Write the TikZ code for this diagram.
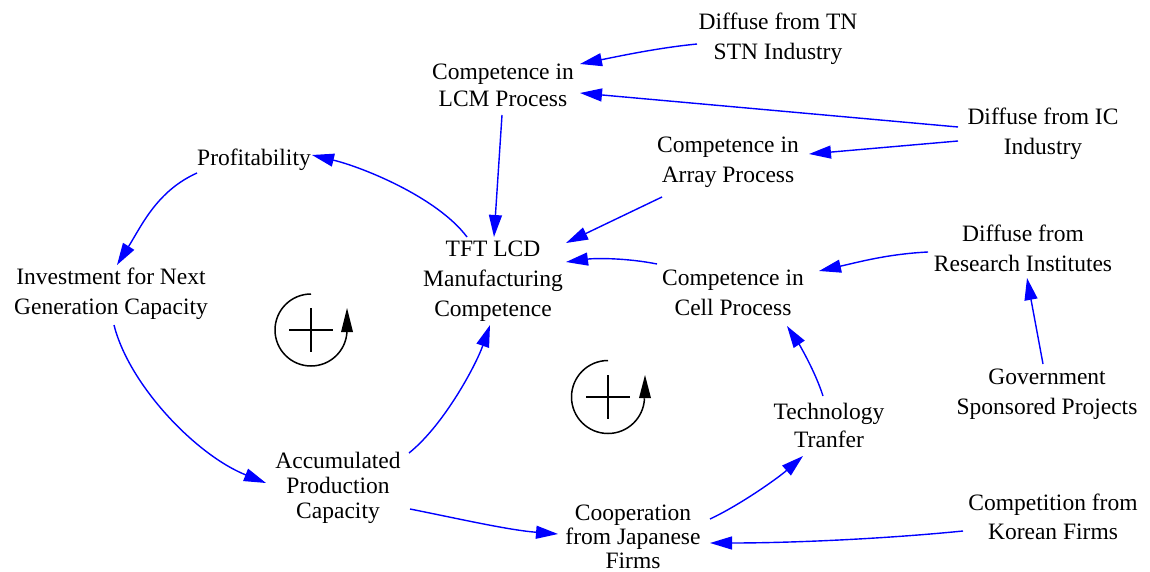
\documentclass[tikz,border=0pt]{standalone}
\usepackage{fontspec}
\setmainfont{Liberation Serif}
\usetikzlibrary{arrows.meta}
\begin{document}
\begin{tikzpicture}[x=1pt,y=-1pt,
  var/.style={align=center, inner sep=0pt, font=\fontsize{23.5}{30}\selectfont},
  tight/.style={font=\fontsize{23.5}{25}\selectfont},
  link/.style={draw=blue, line width=1.4pt, -{Triangle[length=22pt,width=13pt]}},
  loopline/.style={line width=1.5pt},
  plusline/.style={line width=2.5pt}]
\useasboundingbox (0,0) rectangle (1150,572);

% variables
\node[var] (tn)   at (778,39)  {Diffuse from TN\\STN Industry};
\node[var, font=\fontsize{23.5}{27}\selectfont] (lcm) at (503,85) {Competence in\\LCM Process};
\node[var] (ic)   at (1043,134) {Diffuse from IC\\Industry};
\node[var] (prof) at (254,160) {Profitability};
\node[var] (arr)  at (728,162) {Competence in\\Array Process};
\node[var] (tft)  at (493,281) {TFT LCD\\Manufacturing\\Competence};
\node[var] (res)  at (1023,248) {Diffuse from\\Research Institutes};
\node[var] (inv)  at (111,294) {Investment for Next\\Generation Capacity};
\node[var] (cell) at (733,293) {Competence in\\Cell Process};
\node[var] (gov)  at (1047,394) {Government\\Sponsored Projects};
\node[var, font=\fontsize{23.5}{28}\selectfont] (tech) at (829,425) {Technology\\Tranfer};
\node[var, tight] (acc)  at (338,488) {Accumulated\\Production\\Capacity};
\node[var, font=\fontsize{23.5}{24}\selectfont] (coop) at (633,537) {Cooperation\\from Japanese\\Firms};
\node[var, font=\fontsize{23.5}{29}\selectfont] (comp) at (1053,517) {Competition from\\Korean Firms};

% causal links
\draw[link] ([shift={(-81,5)}]tn.center) .. controls +(-40,4) and +(40,-8) .. ([shift={(77,-21)}]lcm.center);
\draw[link] ([shift={(-85,-7)}]ic.center) -- ([shift={(77,8)}]lcm.center);
\draw[link] ([shift={(-85,7)}]ic.center) -- ([shift={(81,-8)}]arr.center);
\draw[link] ([shift={(-1,30)}]lcm.center) -- ([shift={(1,-44)}]tft.center);
\draw[link] ([shift={(-66,35)}]arr.center) -- ([shift={(73,-38)}]tft.center);
\draw[link] ([shift={(-76,-29)}]cell.center) .. controls +(-30,-6) and +(30,-4) .. ([shift={(73,-19)}]tft.center);
\draw[link] ([shift={(-95,4)}]res.center) .. controls +(-40,2) and +(40,-9) .. ([shift={(86,-22)}]cell.center);
\draw[link] ([shift={(-4,-30)}]gov.center) -- ([shift={(4,30)}]res.center);
\draw[link] ([shift={(-6,-29)}]tech.center) .. controls +(-8,-25) and +(12,18) .. ([shift={(54,33)}]cell.center);
\draw[link] ([shift={(77,-18)}]coop.center) .. controls +(30,-14) and +(-25,22) .. ([shift={(-26,31)}]tech.center);
\draw[link] ([shift={(-90,14)}]comp.center) .. controls +(-80,8) and +(80,0) .. ([shift={(77,6)}]coop.center);
\draw[link] ([shift={(72,21)}]acc.center) .. controls +(50,10) and +(-50,-4) .. ([shift={(-75,-3)}]coop.center);
\draw[link] ([shift={(71,-35)}]acc.center) .. controls +(35,-28) and +(-14,40) .. ([shift={(-3,44)}]tft.center);
\draw[link] ([shift={(-26,-44)}]tft.center) .. controls +(-30,-40) and +(50,12) .. ([shift={(58,-5)}]prof.center);
\draw[link] ([shift={(-57,13)}]prof.center) .. controls +(-40,18) and +(25,-40) .. ([shift={(6,-29)}]inv.center);
\draw[link] ([shift={(3,31)}]inv.center) .. controls +(15,60) and +(-70,-28) .. ([shift={(-72,-5)}]acc.center);

% reinforcing loop markers
\begin{scope}[shift={(311,330)}]
  \draw[loopline] (0,-36) arc[start angle=-90, end angle=-358, radius=36];
  \fill (30,2) -- (42,2) -- (36,-22) -- cycle;
  \draw[plusline] (-22,0) -- (22,0) (0,-22) -- (0,22);
\end{scope}
\begin{scope}[shift={(608,397)}]
  \draw[loopline] (0,-36.5) arc[start angle=-90, end angle=-358, radius=36.5];
  \fill (31,1) -- (43,1) -- (37,-22) -- cycle;
  \draw[plusline] (-22,0) -- (22,0) (0,-22) -- (0,22);
\end{scope}
\end{tikzpicture}
\end{document}
